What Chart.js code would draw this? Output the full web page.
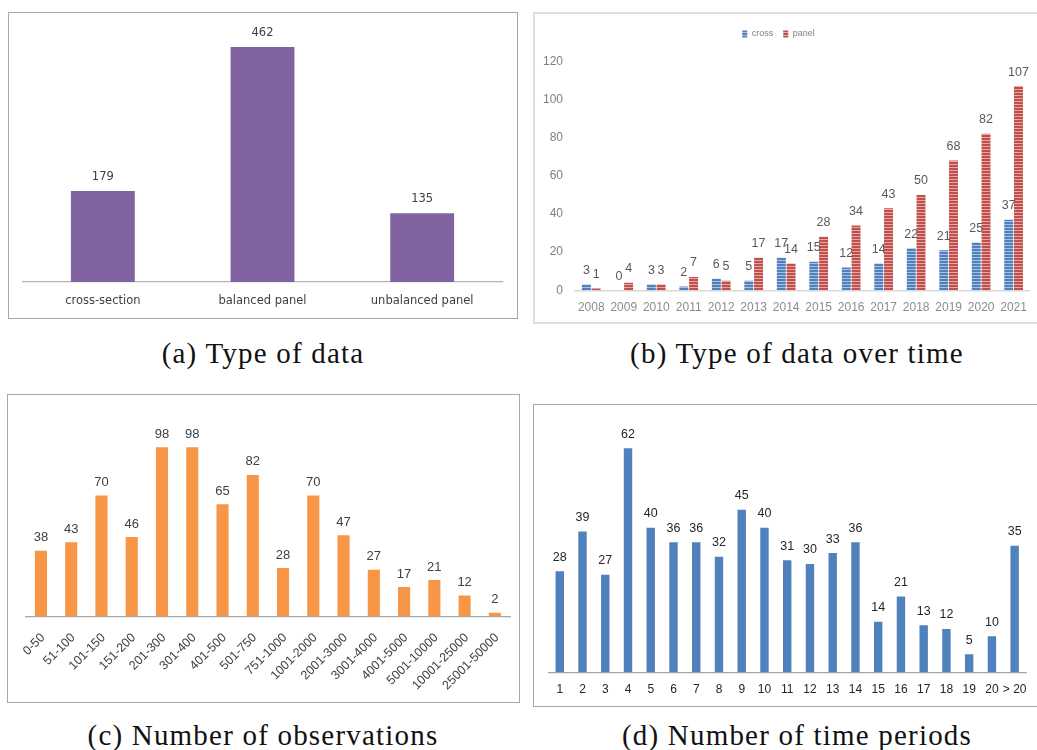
<!DOCTYPE html>
<html>
<head>
<meta charset="utf-8">
<script src="https://cdn.jsdelivr.net/npm/chart.js@4.4.1/dist/chart.umd.min.js"></script>
<style>
  html, body { margin: 0; padding: 0; background: #ffffff; }
  body { position: relative; width: 1037px; height: 750px; overflow: hidden; }
  canvas { position: absolute; }
  .frame { position: absolute; box-sizing: border-box; pointer-events: none; }
  .caption {
    position: absolute; width: 520px; text-align: center;
    font-family: "Liberation Serif", "DejaVu Serif", serif; font-size: 29px; color: #111;
    letter-spacing: 1.2px; line-height: 30px; white-space: nowrap;
  }
</style>
</head>
<body>

<div class="frame" style="left:8px; top:12px; width:510px; height:307px; border:1px solid #a8a8a8;"></div>
<div class="frame" style="left:533px; top:12px; width:520px; height:312px; border:2px solid #dedede;"></div>
<div class="frame" style="left:7px; top:394px; width:513px; height:309px; border:1px solid #a8a8a8;"></div>
<div class="frame" style="left:533px; top:404px; width:520px; height:303px; border:1px solid #a8a8a8;"></div>

<canvas id="chartType" width="510" height="307" style="left:8px; top:12px;"></canvas>
<canvas id="chartYears" width="516" height="312" style="left:521px; top:12px;"></canvas>
<canvas id="chartObs" width="513" height="308" style="left:7px; top:394px;"></canvas>
<canvas id="chartPeriods" width="504" height="302" style="left:533px; top:404px;"></canvas>

<div class="caption" style="left:3px; top:338px;">(a) Type of data</div>
<div class="caption" style="left:537px; top:338px;">(b) Type of data over time</div>
<div class="caption" style="left:3px; top:720px;">(c) Number of observations</div>
<div class="caption" style="left:537px; top:720px;">(d) Number of time periods</div>

<script>
// (a) type of data
const typeLabels = ['cross-section', 'balanced panel', 'unbalanced panel'];
const typeCounts = [179, 462, 135];

// (b) type of data per publication year
const years = ['2008', '2009', '2010', '2011', '2012', '2013', '2014', '2015', '2016', '2017', '2018', '2019', '2020', '2021'];
const crossCounts = [3, 0, 3, 2, 6, 5, 17, 15, 12, 14, 22, 21, 25, 37];
const panelCounts = [1, 4, 3, 7, 5, 17, 14, 28, 34, 43, 50, 68, 82, 107];
const yearTicks = [0, 20, 40, 60, 80, 100, 120];

// (c) number of observations
const obsLabels = ['0-50', '51-100', '101-150', '151-200', '201-300', '301-400', '401-500', '501-750',
  '751-1000', '1001-2000', '2001-3000', '3001-4000', '4001-5000', '5001-10000', '10001-25000', '25001-50000'];
const obsCounts = [38, 43, 70, 46, 98, 98, 65, 82, 28, 70, 47, 27, 17, 21, 12, 2];

// (d) number of time periods
const periodLabels = ['1', '2', '3', '4', '5', '6', '7', '8', '9', '10', '11', '12', '13', '14', '15', '16', '17', '18', '19', '20', '> 20'];
const periodCounts = [28, 39, 27, 62, 40, 36, 36, 32, 45, 40, 31, 30, 33, 36, 14, 21, 13, 12, 5, 10, 35];

Chart.defaults.animation = false;
Chart.defaults.devicePixelRatio = 1;
Chart.defaults.font.family = '"Liberation Sans", Arial, sans-serif';

// Writes each bar's value just above it
const valueLabels = {
  id: 'valueLabels',
  afterDatasetsDraw(chart, args, opts) {
    const ctx = chart.ctx;
    ctx.save();
    ctx.font = opts.font;
    ctx.fillStyle = opts.color;
    ctx.textAlign = 'center';
    ctx.textBaseline = 'middle';
    chart.data.datasets.forEach((ds, i) => {
      chart.getDatasetMeta(i).data.forEach((bar, j) => {
        ctx.fillText(String(ds.data[j]), bar.x, bar.y - opts.offset);
      });
    });
    ctx.restore();
  }
};

// Horizontally striped fill for the bars of the yearly chart
function stripes(base, light) {
  const c = document.createElement('canvas');
  c.width = 4; c.height = 3;
  const g = c.getContext('2d');
  g.fillStyle = base; g.fillRect(0, 0, 4, 3);
  g.fillStyle = light; g.fillRect(0, 2, 4, 1);
  return g.createPattern(c, 'repeat');
}

function fixedHeight(h) { return s => { s.height = h; }; }
function fixedWidth(w) { return s => { s.width = w; }; }

// (a)
new Chart(document.getElementById('chartType'), {
  type: 'bar',
  data: {
    labels: typeLabels,
    datasets: [{ data: typeCounts, backgroundColor: '#8064a2', categoryPercentage: 1, barPercentage: 0.4 }]
  },
  options: {
    responsive: false,
    layout: { padding: { left: 15, right: 16, top: 15.7, bottom: 0 } },
    plugins: {
      legend: { display: false }, tooltip: { enabled: false },
      valueLabels: { font: '11.5px "DejaVu Sans", sans-serif', color: '#404040', offset: 14 }
    },
    scales: {
      x: {
        grid: { display: false, drawTicks: false },
        border: { display: true, color: '#b4b4b4', width: 1.2 },
        ticks: { font: { family: '"DejaVu Sans", sans-serif', size: 11.5 }, color: '#404040', padding: 11.8, maxRotation: 0 },
        afterFit: fixedHeight(37)
      },
      y: { display: false, min: 0, max: 500 }
    }
  },
  plugins: [valueLabels]
});

// (b)
new Chart(document.getElementById('chartYears'), {
  type: 'bar',
  data: {
    labels: years,
    datasets: [
      { label: 'cross', data: crossCounts, backgroundColor: stripes('#4f81bd', '#a9c2e3'), categoryPercentage: 0.6, barPercentage: 0.92 },
      { label: 'panel', data: panelCounts, backgroundColor: stripes('#c0504d', '#e6a7a5'), categoryPercentage: 0.6, barPercentage: 0.92 }
    ]
  },
  options: {
    responsive: false,
    layout: { padding: { left: 0, right: 1, top: 7.5, bottom: 0 } },
    plugins: {
      legend: {
        display: true, position: 'top',
        labels: {
          boxWidth: 5, boxHeight: 7, padding: 10, color: '#808080',
          font: { size: 9 }
        }
      },
      tooltip: { enabled: false },
      valueLabels: { font: '12.5px "Liberation Sans", sans-serif', color: '#595959', offset: 14 }
    },
    scales: {
      x: {
        grid: { display: false, drawTicks: false },
        border: { display: true, color: '#d9d9d9', width: 1.5 },
        ticks: {
          font: { size: 12 },
          color: '#8c8c8c', padding: 10, maxRotation: 0, autoSkip: false
        },
        afterFit: fixedHeight(33.7)
      },
      y: {
        min: 0, max: 126.7,
        grid: { display: false, drawTicks: false },
        border: { display: false },
        ticks: {
          stepSize: 20, includeBounds: false, padding: 12, color: '#7f7f7f',
          font: { size: 12 }
        },
        afterBuildTicks: s => { s.ticks = yearTicks.map(v => ({ value: v })); },
        afterFit: fixedWidth(54)
      }
    }
  },
  plugins: [valueLabels]
});

// (c)
new Chart(document.getElementById('chartObs'), {
  type: 'bar',
  data: {
    labels: obsLabels,
    datasets: [{ data: obsCounts, backgroundColor: '#f79646', categoryPercentage: 1, barPercentage: 0.4 }]
  },
  options: {
    responsive: false,
    layout: { padding: { left: 18.8, right: 10, top: 15.4, bottom: 0 } },
    plugins: {
      legend: { display: false }, tooltip: { enabled: false },
      valueLabels: { font: '13px "Liberation Sans", sans-serif', color: '#404040', offset: 13 }
    },
    scales: {
      x: {
        grid: { display: false, drawTicks: false },
        border: { display: true, color: '#a6a6a6', width: 1.2 },
        ticks: { font: { size: 12.5 }, color: '#404040', padding: 14, labelOffset: 2, minRotation: 45, maxRotation: 45, autoSkip: false },
        afterFit: fixedHeight(85.7)
      },
      y: { display: false, min: 0, max: 120 }
    }
  },
  plugins: [valueLabels]
});

// (d)
new Chart(document.getElementById('chartPeriods'), {
  type: 'bar',
  data: {
    labels: periodLabels,
    datasets: [{ data: periodCounts, backgroundColor: '#4f81bd', categoryPercentage: 1, barPercentage: 0.37 }]
  },
  options: {
    responsive: false,
    layout: { padding: { left: 15.4, right: 0, top: 15.4, bottom: 0 } },
    plugins: {
      legend: { display: false }, tooltip: { enabled: false },
      valueLabels: { font: '12.5px "Liberation Sans", sans-serif', color: '#262626', offset: 14 }
    },
    scales: {
      x: {
        grid: { display: false, drawTicks: false },
        border: { display: true, color: '#a6a6a6', width: 1.2 },
        ticks: { font: { size: 12 }, color: '#262626', padding: 10.5, maxRotation: 0, autoSkip: false },
        afterFit: fixedHeight(33.7)
      },
      y: { display: false, min: 0, max: 70 }
    }
  },
  plugins: [valueLabels]
});
</script>
</body>
</html>
